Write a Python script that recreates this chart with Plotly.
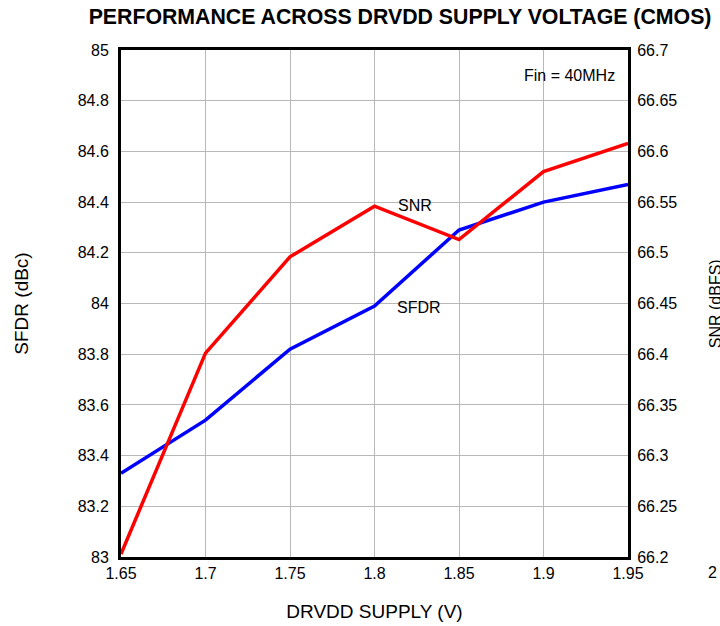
'''
    Dual-axis line chart: SFDR and SNR across DRVDD supply voltage.
'''
import plotly.graph_objects as go

supply_v = [1.65, 1.7, 1.75, 1.8, 1.85, 1.9, 1.95]
sfdr_dbc = [83.33, 83.54, 83.82, 83.99, 84.29, 84.40, 84.47]
snr_dbfs = [66.203, 66.401, 66.496, 66.546, 66.513, 66.580, 66.608]

x_ticks = [1.65, 1.7, 1.75, 1.8, 1.85, 1.9, 1.95]
x_tick_text = ['1.65', '1.7', '1.75', '1.8', '1.85', '1.9', '1.95']
extra_x_tick = '2'
sfdr_ticks = [83, 83.2, 83.4, 83.6, 83.8, 84, 84.2, 84.4, 84.6, 84.8, 85]
sfdr_tick_text = ['83', '83.2', '83.4', '83.6', '83.8', '84', '84.2', '84.4', '84.6', '84.8', '85']
snr_ticks = [66.2, 66.25, 66.3, 66.35, 66.4, 66.45, 66.5, 66.55, 66.6, 66.65, 66.7]
snr_tick_text = ['66.2', '66.25', '66.3', '66.35', '66.4', '66.45', '66.5', '66.55', '66.6', '66.65', '66.7']

FONT = 'Liberation Sans, Arial, sans-serif'
GRID = '#b8b8b8'

fig = go.Figure()
fig.add_trace(go.Scatter(x=supply_v, y=sfdr_dbc, mode='lines', name='SFDR',
                         line=dict(color='#0000ff', width=3.5), yaxis='y'))
fig.add_trace(go.Scatter(x=supply_v, y=snr_dbfs, mode='lines', name='SNR',
                         line=dict(color='#ff0000', width=3.5), yaxis='y2'))

fig.update_layout(
    width=720, height=626,
    margin=dict(l=121, r=92, t=50, b=69, autoexpand=False),
    paper_bgcolor='white', plot_bgcolor='white',
    font=dict(family=FONT, size=16, color='black'),
    showlegend=False,
    title=dict(text='<b>PERFORMANCE ACROSS DRVDD SUPPLY VOLTAGE (CMOS)</b>',
               x=0.5556, xanchor='center', y=0.973, yanchor='middle',
               font=dict(size=21.3)),
    xaxis=dict(range=[1.65, 1.95], tickvals=x_ticks, ticktext=x_tick_text,
               showgrid=True, gridcolor=GRID, gridwidth=1,
               showline=True, linecolor='black', linewidth=3, mirror=True,
               ticks='', zeroline=False, automargin=False,
               title=dict(text='DRVDD SUPPLY (V)', standoff=24)),
    yaxis=dict(range=[83, 85], tickvals=sfdr_ticks, ticktext=sfdr_tick_text,
               showgrid=True, gridcolor=GRID, gridwidth=1,
               showline=True, linecolor='black', linewidth=3,
               ticks='outside', ticklen=0, ticklabelstandoff=6,
               zeroline=False, automargin=False,
               title=dict(text='SFDR (dBc)', standoff=45)),
    yaxis2=dict(range=[66.2, 66.7], tickvals=snr_ticks, ticktext=snr_tick_text,
                overlaying='y', side='right', showgrid=False,
                showline=True, linecolor='black', linewidth=3, automargin=False,
                ticks='outside', ticklen=0, ticklabelstandoff=3, zeroline=False),
)

# labels inside the plot
fig.add_annotation(x=1.8, y=66.547, xref='x', yref='y2', text='SNR',
                   showarrow=False, xanchor='left', xshift=21, font=dict(size=16))
fig.add_annotation(x=1.8, y=83.986, xref='x', yref='y', text='SFDR',
                   showarrow=False, xanchor='left', xshift=20, font=dict(size=16))
fig.add_annotation(x=0.978, y=0.95, xref='paper', yref='paper', text='Fin = 40MHz',
                   showarrow=False, xanchor='right', yanchor='middle', font=dict(size=16))

# tick label beyond the plot area and the right axis title (cut by the edge)
fig.add_annotation(x=1 + 1 / 6, y=0, xref='paper', yref='paper', text=extra_x_tick,
                   showarrow=False, xanchor='center', yanchor='top', yshift=-5,
                   font=dict(size=16))
fig.add_annotation(x=1.173, y=0.5, xref='paper', yref='paper', text='SNR (dBFS)',
                   showarrow=False, textangle=-90, xanchor='center', yanchor='middle',
                   font=dict(size=16))

# drop the default 8px page margin so the figure sits at the window's corner
fig.write_html('out.html', config={'displayModeBar': False},
               post_script="document.body.style.margin='0';")
